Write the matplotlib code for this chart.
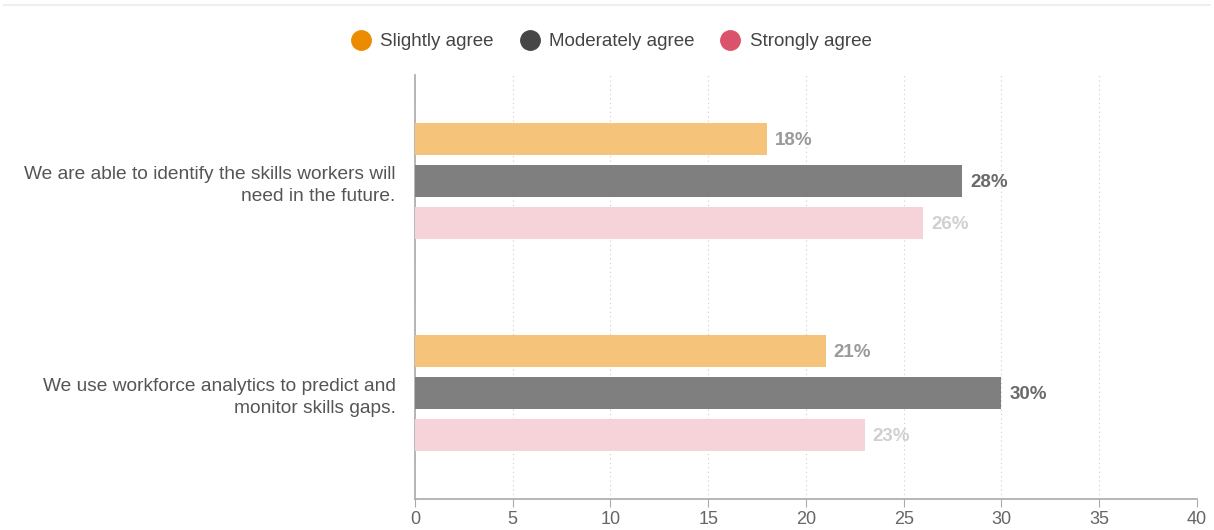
import numpy as np
import matplotlib
matplotlib.use("Agg")
import matplotlib.pyplot as plt
from matplotlib.lines import Line2D

plt.rcParams['font.family'] = ['Liberation Sans', 'DejaVu Sans']

categories = ["We are able to identify the skills workers will\nneed in the future.",
              "We use workforce analytics to predict and\nmonitor skills gaps."]
series = ["Slightly agree", "Moderately agree", "Strongly agree"]
slightly = [18, 21]
moderately = [28, 30]
strongly = [26, 23]

bar_colors = ["#f5c37a", "#7f7f7f", "#f6d3d9"]
legend_colors = ["#eb8c00", "#464646", "#db536a"]
label_colors = ["#9a9a9a", "#6a6a6a", "#d0d0d0"]

fig = plt.figure(figsize=(12.14, 5.30), dpi=100)
ax = fig.add_axes([0.3418, 0.0585, 0.9860 - 0.3418, 0.8585 - 0.0585])

y = np.arange(len(categories))
h = 0.151
offs = [-0.198, 0.0, 0.198]
for vals, off, c, lc in zip([slightly, moderately, strongly], offs, bar_colors, label_colors):
    bars = ax.barh(y + off, vals, height=h, color=c, zorder=3)
    for b, v in zip(bars, vals):
        ax.text(v + 0.4, b.get_y() + h / 2 + 0.005, f"{v}%", va="center", ha="left",
                fontsize=13.5, fontweight="bold", color=lc)

ax.set_xlim(0, 40)
ax.set_ylim(1.5, -0.5)
ax.set_xticks(range(0, 41, 5))
ax.set_yticks(y)
ax.set_yticklabels(categories, fontsize=13.8, color="#555555", linespacing=1.35)
ax.tick_params(axis="y", length=0, pad=14)
ax.tick_params(axis="x", length=6, color="#aaaaaa", labelcolor="#666666", labelsize=13, pad=3)
ax.grid(axis="x", linestyle=(0, (1, 3)), color="#cccccc", linewidth=0.8, zorder=0)
for s in ["top", "right"]:
    ax.spines[s].set_visible(False)
for s in ["left", "bottom"]:
    ax.spines[s].set_color("#aaaaaa")
    ax.spines[s].set_linewidth(1.2)

handles = [Line2D([], [], marker="o", linestyle="None", markersize=14,
                  markerfacecolor=c, markeredgecolor=c) for c in legend_colors]
fig.legend(handles, series, loc="center", bbox_to_anchor=(0.5, 0.921), ncol=3,
           frameon=False, fontsize=13.5, handletextpad=0.05, columnspacing=0.9,
           labelcolor="#444444")

fig.add_artist(Line2D([0.003, 0.997], [0.991, 0.991], color="#eeeeee", linewidth=1.5,
                      transform=fig.transFigure))

fig.savefig("out.png", dpi=100)
